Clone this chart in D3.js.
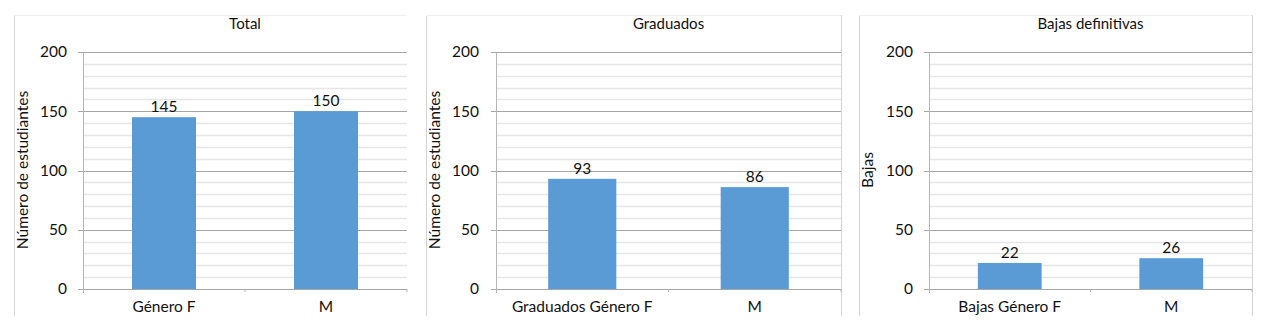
<!DOCTYPE html>
<html><head><meta charset="utf-8">
<script src="https://cdn.jsdelivr.net/npm/d3@7"></script>
<style>body{margin:0;background:#fff}svg{display:block}text{font-family:Lato,"Open Sans",sans-serif;fill:#111}</style>
</head><body><svg id="c" width="1280" height="334"></svg>
<script>
const titles = ["Total", "Graduados", "Bajas definitivas"];
const yTitles = ["Número de estudiantes", "Número de estudiantes", "Bajas"];
const catsTotal = ["Género F", "M"];
const catsGrad = ["Graduados Género F", "M"];
const catsBajas = ["Bajas Género F", "M"];
const valsTotal = [145, 150];
const valsGrad = [93, 86];
const valsBajas = [22, 26];
const yTicks = [0, 50, 100, 150, 200];

const panels = [
  {cats: catsTotal, vals: valsTotal, frame:[14, 427], plot:[83, 407], yt:23, tl:67, rightBorder:false},
  {cats: catsGrad, vals: valsGrad, frame:[426, 841], plot:[496, 841], yt:435, tl:479, rightBorder:true},
  {cats: catsBajas, vals: valsBajas, frame:[859, 1252], plot:[929, 1252], yt:868, tl:913, rightBorder:true}
];
const svg = d3.select("#c");
const plotTop = 52, plotBottom = 289;
panels.forEach((p, i) => {
  const g = svg.append("g");
  g.append("line").attr("x1", p.frame[0] + 0.5).attr("x2", p.frame[0] + 0.5).attr("y1", 15).attr("y2", 316).attr("stroke", "#d4d4d4");
  g.append("line").attr("x1", p.frame[0]).attr("x2", p.rightBorder ? p.frame[1] : p.plot[1]).attr("y1", 15.5).attr("y2", 15.5).attr("stroke", "#f0f0f0");
  if (p.rightBorder) g.append("line").attr("x1", p.frame[1] + 0.5).attr("x2", p.frame[1] + 0.5).attr("y1", 15).attr("y2", 316).attr("stroke", "#d4d4d4");
  const x = d3.scaleBand().domain(p.cats).range(p.plot).paddingInner(0.605).paddingOuter(0.3025);
  const y = d3.scaleLinear().domain([0, 200]).range([plotBottom, plotTop]);
  const minor = d3.range(10, 200, 10).filter(v => v % 50 !== 0);
  g.selectAll(".mn").data(minor).enter().append("line")
    .attr("x1", p.plot[0]).attr("x2", p.plot[1])
    .attr("y1", d => Math.round(y(d)) + 0.5).attr("y2", d => Math.round(y(d)) + 0.5)
    .attr("stroke", "#e6e6e6").attr("stroke-width", 1.5);
  g.selectAll(".mj").data(yTicks).enter().append("line")
    .attr("x1", p.plot[0] - 5).attr("x2", p.plot[1])
    .attr("y1", d => Math.round(y(d)) + 0.5).attr("y2", d => Math.round(y(d)) + 0.5)
    .attr("stroke", "#a6a6a6").attr("stroke-width", 1);
  g.append("line").attr("x1", p.plot[0] + 0.5).attr("x2", p.plot[0] + 0.5).attr("y1", plotTop).attr("y2", plotBottom + 4).attr("stroke", "#b5b5b5");
  const mid = (p.plot[0] + p.plot[1]) / 2;
  [mid, p.plot[1]].forEach(xx => g.append("line").attr("x1", xx).attr("x2", xx).attr("y1", plotBottom).attr("y2", plotBottom + 3).attr("stroke", "#b5b5b5"));
  g.selectAll(".tl").data(yTicks).enter().append("text")
    .attr("x", p.tl).attr("y", d => y(d)).attr("dy", "0.35em").attr("text-anchor", "end")
    .style("font-size", "15.5px").text(d => d);
  const data = p.cats.map((c, j) => ({c, v: p.vals[j]}));
  g.selectAll(".bar").data(data).enter().append("rect")
    .attr("x", d => x(d.c)).attr("width", x.bandwidth())
    .attr("y", d => y(d.v)).attr("height", d => y(0) - y(d.v))
    .attr("fill", "#5b9bd5");
  g.selectAll(".vl").data(data).enter().append("text")
    .attr("x", d => x(d.c) + x.bandwidth() / 2).attr("y", d => y(d.v) - 5)
    .attr("text-anchor", "middle").style("font-size", "15.5px").text(d => d.v);
  g.selectAll(".cl").data(data).enter().append("text")
    .attr("x", d => x(d.c) + x.bandwidth() / 2).attr("y", 307).attr("dy", "0.35em")
    .attr("text-anchor", "middle").style("font-size", "15.5px").text(d => d.c);
  g.append("text").attr("x", mid).attr("y", 24).attr("dy", "0.35em").attr("text-anchor", "middle")
    .style("font-size", "15px").text(titles[i]);
  g.append("text").attr("transform", `translate(${p.yt},170) rotate(-90)`).attr("dy", "0.35em")
    .attr("text-anchor", "middle").style("font-size", "15.5px").text(yTitles[i]);
});
</script></body></html>
